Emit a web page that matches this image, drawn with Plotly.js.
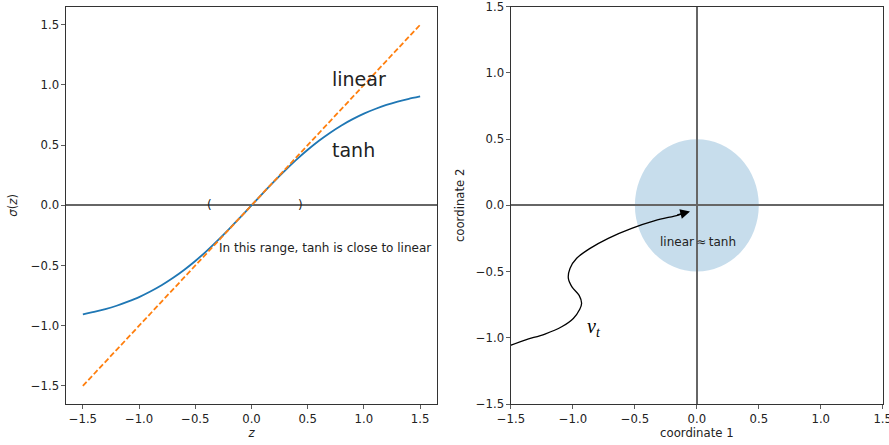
<!DOCTYPE html>
<html>
<head>
<meta charset="utf-8">
<script src="https://cdn.plot.ly/plotly-3.0.1.min.js"></script>
<style>html,body{margin:0;padding:0;background:#fff;}#chart{width:889px;height:445px;}</style>
</head>
<body>
<div id="chart"></div>
<script>
// ---- data ----
const zValues = [-1.5,-1.4,-1.3,-1.2,-1.1,-1.0,-0.9,-0.8,-0.7,-0.6,-0.5,-0.4,-0.3,-0.2,-0.1,0.0,0.1,0.2,0.3,0.4,0.5,0.6,0.7,0.8,0.9,1.0,1.1,1.2,1.3,1.4,1.5];
const tanhValues = [-0.905,-0.885,-0.862,-0.834,-0.800,-0.762,-0.716,-0.664,-0.604,-0.537,-0.462,-0.380,-0.291,-0.197,-0.100,0.0,0.100,0.197,0.291,0.380,0.462,0.537,0.604,0.664,0.716,0.762,0.800,0.834,0.862,0.885,0.905];
const linearX = [-1.5, 1.5];
const linearY = [-1.5, 1.5];
const pathX = [-1.52,-1.387,-1.226,-1.091,-0.997,-0.945,-0.930,-0.950,-1.008,-1.037,-1.024,-0.970,-0.862,-0.715,-0.526,-0.338,-0.150,-0.07];
const pathY = [-1.062,-1.017,-0.972,-0.917,-0.854,-0.785,-0.740,-0.680,-0.615,-0.551,-0.476,-0.400,-0.325,-0.249,-0.174,-0.116,-0.073,-0.049];
const circleCenter = [0, 0];
const circleRadius = 0.5;
const tickVals = [-1.5,-1.0,-0.5,0.0,0.5,1.0,1.5];

const FONT = 'DejaVu Sans';
const axisCommon = {
  showline: true, mirror: true, linecolor: '#333', linewidth: 1,
  ticks: 'outside', ticklen: 3.5, tickwidth: 0.8, tickcolor: '#333',
  tickvals: tickVals, tickformat: '.1f', ticklabeloverflow: 'allow',
  tickfont: {family: FONT, size: 11.7, color: '#222'},
  showgrid: false, zeroline: false, automargin: false
};

const traces = [
  {x: zValues, y: tanhValues, type: 'scatter', mode: 'lines', xaxis: 'x', yaxis: 'y',
   line: {color: '#1f77b4', width: 1.8, shape: 'spline', smoothing: 0.5}, hoverinfo: 'skip'},
  {x: linearX, y: linearY, type: 'scatter', mode: 'lines', xaxis: 'x', yaxis: 'y',
   line: {color: '#ff7f0e', width: 1.8, dash: '5.5px,2.5px'}, hoverinfo: 'skip'},
  {x: pathX, y: pathY, type: 'scatter', mode: 'lines', xaxis: 'x2', yaxis: 'y2',
   line: {color: '#000', width: 1.3, shape: 'spline', smoothing: 1}, hoverinfo: 'skip'}
];

const zl = {zeroline: true, zerolinecolor: '#666', zerolinewidth: 2.2};
const R2 = [-1.500001, 1.500001];

const layout = {
  width: 889, height: 445,
  margin: {l: 0, r: 0, t: 0, b: 0},
  paper_bgcolor: '#fff', plot_bgcolor: '#fff',
  showlegend: false,
  font: {family: FONT, color: '#222'},
  xaxis: Object.assign({}, axisCommon, {domain: [0.07424, 0.49156], range: [-1.65, 1.65], anchor: 'y',
    title: {text: '<i>z</i>', font: {family: FONT, size: 11.7, color: '#222'}, standoff: 3}}),
  yaxis: Object.assign({}, axisCommon, zl, {domain: [0.09213, 0.98494], range: [-1.65, 1.65], anchor: 'x',
    title: {text: '<i>σ</i>(<i>z</i>)', font: {family: FONT, size: 11.7, color: '#222'}, standoff: 10}}),
  xaxis2: Object.assign({}, axisCommon, zl, {domain: [0.5748, 0.99291], range: R2, anchor: 'y2',
    title: {text: 'coordinate 1', font: {family: FONT, size: 11.7, color: '#222'}, standoff: 3}}),
  yaxis2: Object.assign({}, axisCommon, zl, {domain: [0.09213, 0.98494], range: R2, anchor: 'x2',
    title: {text: 'coordinate 2', font: {family: FONT, size: 11.7, color: '#222'}, standoff: 8}}),
  shapes: [
    {type: 'circle', xref: 'x2', yref: 'y2', layer: 'below',
     x0: circleCenter[0] - circleRadius, x1: circleCenter[0] + circleRadius,
     y0: circleCenter[1] - circleRadius, y1: circleCenter[1] + circleRadius,
     fillcolor: 'rgba(31,119,180,0.25)', line: {width: 0}}
  ],
  annotations: [
    {xref: 'x', yref: 'y', x: 0.7, y: 1.05, xanchor: 'left', yanchor: 'middle', showarrow: false,
     text: 'linear', font: {family: FONT, size: 19, color: '#222'}},
    {xref: 'x', yref: 'y', x: 0.7, y: 0.46, xanchor: 'left', yanchor: 'middle', showarrow: false,
     text: 'tanh', font: {family: FONT, size: 19, color: '#222'}},
    {xref: 'x', yref: 'y', x: -0.376, y: 0, xanchor: 'center', yanchor: 'middle', showarrow: false,
     text: '(', font: {family: FONT, size: 12, color: '#222'}},
    {xref: 'x', yref: 'y', x: 0.438, y: 0, xanchor: 'center', yanchor: 'middle', showarrow: false,
     text: ')', font: {family: FONT, size: 12, color: '#222'}},
    {xref: 'x', yref: 'y', x: -0.31, y: -0.358, xanchor: 'left', yanchor: 'middle', showarrow: false,
     text: 'In this range, tanh is close to linear', font: {family: FONT, size: 12, color: '#222'}},
    {xref: 'x2', yref: 'y2', x: 0.01, y: -0.273, xanchor: 'center', yanchor: 'middle', showarrow: false,
     text: 'linear\u2009≈\u2009tanh', font: {family: FONT, size: 12, color: '#222'}},
    {xref: 'x2', yref: 'y2', x: -0.9, y: -0.92, xanchor: 'left', yanchor: 'middle', showarrow: false,
     text: '<i>v</i><sub><i>t</i></sub>', font: {family: 'Liberation Serif', size: 20, color: '#000'}},
    {xref: 'x2', yref: 'y2', x: -0.055, y: -0.047, axref: 'x2', ayref: 'y2', ax: -0.17, ay: -0.075,
     showarrow: true, arrowhead: 2, arrowsize: 1.5, arrowwidth: 1.3, arrowcolor: '#000', text: '', standoff: 0}
  ]
};

Plotly.newPlot('chart', traces, layout, {displayModeBar: false, staticPlot: true});
</script>
</body>
</html>
